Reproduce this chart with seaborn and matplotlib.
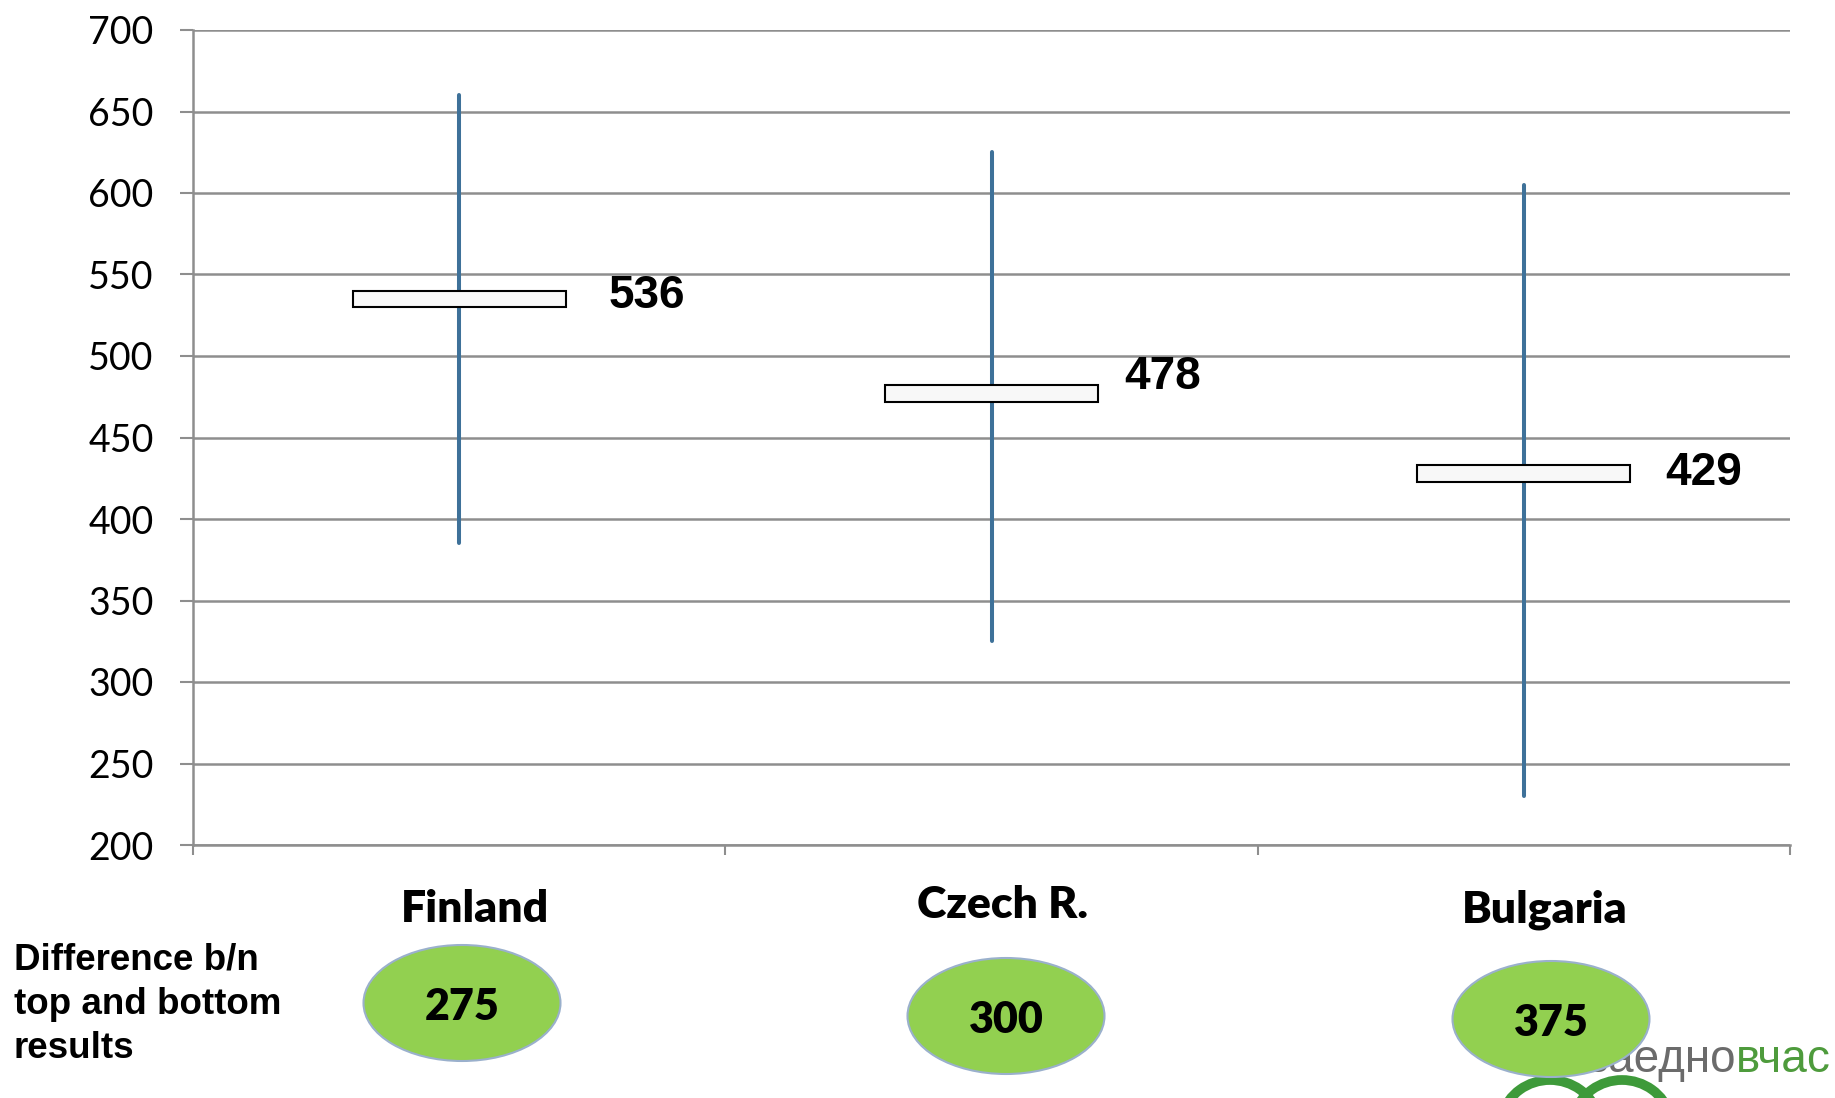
import matplotlib
matplotlib.use("Agg")
import matplotlib.pyplot as plt
from matplotlib.patches import Ellipse, Rectangle, Arc
import seaborn as sns
import pandas as pd

# data
countries = ["Finland", "Czech R.", "Bulgaria"]
mean_scores = [536, 478, 429]
low_scores = [385, 325, 230]
high_scores = [660, 625, 605]
differences = [275, 300, 375]
y_ticks = [200, 250, 300, 350, 400, 450, 500, 550, 600, 650, 700]

# layout tweaks (pixel positions of the extra decorations)
W, H = 1835, 1098
label_dx = [0.28, 0.25, 0.265]
label_dy = [1, 9, -1]
cat_dx = [0.03, 0.02, 0.04]
cat_y = [909, 905, 910]
ell_centers = [(462, 1003), (1006, 1016), (1551, 1019)]

WHISKER = "#3E7199"
GRID = "#8E8E8E"
GREEN = "#92D050"

sns.set_style("white")
plt.rcParams["font.family"] = ["Lato", "DejaVu Sans"]
plt.rcParams["text.color"] = "black"
plt.rcParams["ytick.color"] = "black"

fig = plt.figure(figsize=(W / 100, H / 100), dpi=100)
ax = fig.add_axes([193 / W, 1 - 845 / H, (1790 - 193) / W, (845 - 30) / H])

df = pd.DataFrame({
    "country": countries * 2,
    "pos": list(range(len(countries))) * 2,
    "score": low_scores + high_scores,
})
sns.lineplot(data=df, x="pos", y="score", units="country", estimator=None,
             color=WHISKER, linewidth=2.9, ax=ax, legend=False, sort=False, zorder=3)

for i, m in enumerate(mean_scores):
    ax.add_patch(Rectangle((i - 0.2, m - 6), 0.4, 10, facecolor="#F8F8F8",
                           edgecolor="black", linewidth=1.5, zorder=4))
    ax.text(i + label_dx[i], m + label_dy[i], str(m), fontsize=33, fontweight="bold",
            family=["Liberation Sans", "DejaVu Sans"], va="center", ha="left", zorder=5)

ax.set_xlim(-0.5, 2.5)
ax.set_ylim(200, 700)
ax.set_yticks(y_ticks)
ax.set_yticklabels([str(v) for v in y_ticks], fontsize=27)
ax.set_xticks([-0.5, 0.5, 1.5, 2.5])
ax.set_xticklabels([])
ax.set_xlabel("")
ax.set_ylabel("")
ax.grid(axis="y", color=GRID, linewidth=1.8)
ax.set_axisbelow(True)
ax.tick_params(axis="y", length=9.4, width=1.5, color=GRID, labelcolor="black",
               pad=19, direction="out", left=True)
ax.tick_params(axis="x", length=7, width=1.5, color=GRID, direction="out", bottom=True)
for side in ["top", "right"]:
    ax.spines[side].set_visible(False)
for side in ["left", "bottom"]:
    ax.spines[side].set_color(GRID)
    ax.spines[side].set_linewidth(1.8)

# category names under the axis
trans = ax.get_xaxis_transform()
for i, c in enumerate(countries):
    ax.text(i + cat_dx[i], -(cat_y[i] - 845) / (845 - 30), c, transform=trans,
            fontsize=32, fontweight="heavy", ha="center", va="center")

# side caption
for k, line in enumerate(["Difference b/n", "top and bottom", "results"]):
    fig.text(14 / W, 1 - (960 + 44.5 * k) / H, line, fontsize=26.5, fontweight="bold",
             family=["Liberation Sans", "DejaVu Sans"], ha="left", va="center")

# logo text (partly hidden by the last ellipse)
logo_font = ["Liberation Sans Narrow", "Liberation Sans", "DejaVu Sans"]
t_green = fig.text(1831 / W, 1 - 1072 / H, "вчас", fontsize=33, color="#4E9B3C",
                   family=logo_font, ha="right", va="baseline", zorder=1)
fig.canvas.draw()
x0 = t_green.get_window_extent().x0
fig.text(x0 / W, 1 - 1072 / H, "заедно", fontsize=33, color="#6B6B6B",
         family=logo_font, ha="right", va="baseline", zorder=1)
for cx in [1550, 1622]:
    fig.add_artist(Arc((cx / W, 1 - 1128 / H), 100 / W, 96 / H, theta1=25, theta2=155,
                       transform=fig.transFigure, color="#3E9A3A", linewidth=7, zorder=1))

# difference ellipses
for (cx, cy), d in zip(ell_centers, differences):
    fig.add_artist(Ellipse((cx / W, 1 - cy / H), 197 / W, 116 / H, transform=fig.transFigure,
                           facecolor=GREEN, edgecolor="#9AB0CC", linewidth=1.5, zorder=3))
    fig.text(cx / W, 1 - (cy + 4) / H, str(d), fontsize=31, fontweight="heavy",
             ha="center", va="center", zorder=4)

fig.savefig("out.png", dpi=100)
